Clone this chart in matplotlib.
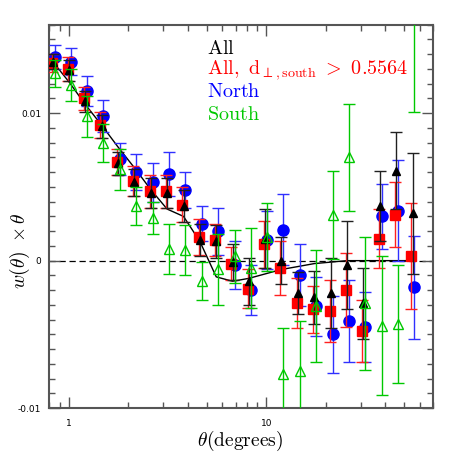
import matplotlib
matplotlib.use("Agg")
import matplotlib.pyplot as plt
from matplotlib.ticker import LogLocator, MultipleLocator, FixedLocator, FixedFormatter, NullFormatter

plt.rcParams['mathtext.fontset'] = 'cm'

# --- data ---
theta = [0.85, 1.03, 1.24, 1.5, 1.82, 2.2, 2.67, 3.22, 3.9, 4.72, 5.71, 6.91,
         8.36, 10.1, 12.2, 14.8, 17.9, 21.7, 26.2, 31.7, 38.4, 46.5, 56.2]

w_all = [0.0135, 0.0129, 0.0108, 0.0091, 0.0066, 0.0053, 0.0046, 0.0046, 0.0037, 0.0014,
         0.0013, -0.0001, -0.0014, 0.0015, 0.0, -0.0022, -0.0025, -0.0022, -0.0003,
         -0.0029, 0.0037, 0.0061, 0.0032]
err_all = [0.0005, 0.0007, 0.0007, 0.0008, 0.0008, 0.0009, 0.0010, 0.0010, 0.0011, 0.0011,
           0.0011, 0.0012, 0.0016, 0.0020, 0.0016, 0.0014, 0.0018, 0.0024, 0.0030,
           0.0024, 0.0024, 0.0026, 0.0041]

w_cut = [0.0134, 0.0130, 0.0110, 0.0092, 0.0067, 0.0054, 0.0047, 0.0047, 0.0038, 0.0016,
         0.0014, -0.0002, -0.0019, 0.0011, -0.0005, -0.0029, -0.0033, -0.0034, -0.0020,
         -0.0048, 0.0015, 0.0031, 0.0003]
err_cut = [0.0006, 0.0008, 0.0008, 0.0009, 0.0009, 0.0010, 0.0011, 0.0011, 0.0012, 0.0012,
           0.0011, 0.0011, 0.0013, 0.0016, 0.0018, 0.0017, 0.0016, 0.0021, 0.0025,
           0.0021, 0.0020, 0.0022, 0.0036]

w_north = [0.0138, 0.0135, 0.0115, 0.0098, 0.0069, 0.0060, 0.0053, 0.0059, 0.0048, 0.0025,
           0.0020, -0.0003, -0.0020, 0.0014, 0.0021, -0.0010, -0.0031, -0.0050, -0.0041,
           -0.0045, 0.0030, 0.0034, -0.0018]
err_north = [0.0008, 0.0009, 0.0010, 0.0011, 0.0011, 0.0012, 0.0013, 0.0015, 0.0012, 0.0012,
             0.0016, 0.0016, 0.0017, 0.0020, 0.0024, 0.0021, 0.0020, 0.0026, 0.0028,
             0.0024, 0.0022, 0.0034, 0.0035]

w_south = [0.0127, 0.0119, 0.0098, 0.0080, 0.0062, 0.0037, 0.0029, 0.0008, 0.0007, -0.0014,
           -0.0006, 0.0003, -0.0005, 0.0016, -0.0077, -0.0075, -0.0031, 0.0031, 0.0070,
           -0.0029, -0.0044, -0.0043, 0.0175]
err_south = [0.0009, 0.0011, 0.0014, 0.0013, 0.0014, 0.0013, 0.0011, 0.0017, 0.0017, 0.0013,
             0.0024, 0.0018, 0.0027, 0.0023, 0.0031, 0.0034, 0.0038, 0.0030, 0.0036,
             0.0045, 0.0047, 0.0040, 0.0074]

w_model = [0.0135, 0.0121, 0.0106, 0.0092, 0.0077, 0.0063, 0.0048, 0.0035, 0.0030, 0.0013,
           -0.0011, -0.0014, -0.0012, -0.0009, -0.0006, -0.0004, -0.0002, -0.0001, 0.0,
           0.0, 0.0, 0.0, 0.0]

GREEN = '#00c800'

fig = plt.figure(figsize=(4.58, 4.58), dpi=100)
ax = fig.add_axes([0.108, 0.109, 0.838, 0.837])

# small horizontal shifts between the samples, as in the reference
th_cut = [t * 0.965 for t in theta]
th_all = [t * 0.978 for t in theta]

ax.plot(th_all, w_model, color='black', lw=1.0, zorder=2)
ax.axhline(0, color='black', ls='--', lw=0.9, dashes=(5, 3), zorder=1)

ekw = dict(capsize=4, elinewidth=1.0, capthick=1.0, linestyle='none')
ax.errorbar(theta, w_north, yerr=err_north, fmt='o', color='blue', ms=8, ecolor='#3030ff', zorder=3, **ekw)
ax.errorbar(th_cut, w_cut, yerr=err_cut, fmt='s', color='red', ms=6.5, ecolor='#ff2020', zorder=4, **ekw)
ax.errorbar(th_all, w_all, yerr=err_all, fmt='^', color='black', ms=5.5, ecolor='#202020', zorder=5, **ekw)
ax.errorbar(theta, w_south, yerr=err_south, fmt='^', color=GREEN, mfc='none', mec=GREEN, ms=7, mew=1.0,
            ecolor=GREEN, zorder=6, **ekw)

ax.set_xscale('log')
ax.set_xlim(0.8, 70)
ax.set_ylim(-0.01, 0.016)

ax.xaxis.set_major_locator(FixedLocator([1, 10]))
ax.xaxis.set_major_formatter(FixedFormatter(['1', '10']))
ax.xaxis.set_minor_locator(LogLocator(base=10, subs=range(2, 10)))
ax.xaxis.set_minor_formatter(NullFormatter())
ax.yaxis.set_major_locator(FixedLocator([-0.01, 0, 0.01]))
ax.yaxis.set_major_formatter(FixedFormatter(['-0.01', '0', '0.01']))
ax.yaxis.set_minor_locator(MultipleLocator(0.001))

ax.tick_params(which='both', direction='in', top=True, right=True, color='#555555', labelsize=6.5)
ax.tick_params(which='major', length=8, width=1.0)
ax.tick_params(which='minor', length=4, width=1.0)
ax.tick_params(axis='x', pad=8)
ax.tick_params(axis='y', pad=6)
for sp in ax.spines.values():
    sp.set_color('#555555')
    sp.set_linewidth(1.5)

ax.set_xlabel(r'$\theta(\mathrm{degrees})$', fontsize=14)
ax.xaxis.set_label_coords(0.496, -0.055)
ax.set_ylabel(r'$w(\theta)\ \times\theta$', fontsize=14)
ax.yaxis.set_label_coords(-0.045, 0.41)

# legend as coloured text lines
tx = 0.41
fs = 14.5
ax.text(tx, 0.937, r'$\mathrm{All}$', color='black', fontsize=fs, transform=ax.transAxes, va='center')
ax.text(tx, 0.881, r'$\mathrm{All,\ d_{\perp,south}\ >\ 0.5564}$', color='red', fontsize=fs,
        transform=ax.transAxes, va='center')
ax.text(tx, 0.825, r'$\mathrm{North}$', color='blue', fontsize=fs, transform=ax.transAxes, va='center')
ax.text(tx, 0.765, r'$\mathrm{South}$', color=GREEN, fontsize=fs, transform=ax.transAxes, va='center')

fig.savefig('out.png', dpi=100)
